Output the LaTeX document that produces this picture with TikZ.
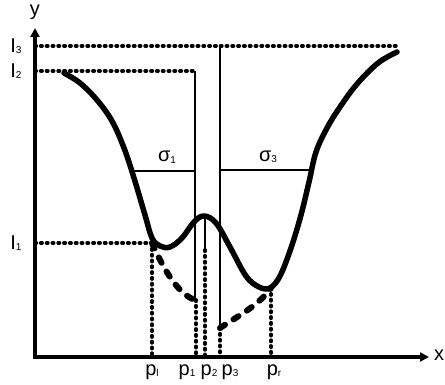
\documentclass[tikz,border=0pt]{standalone}
\usepackage{fontspec}
\setmainfont{Liberation Sans}
\usetikzlibrary{arrows.meta}
\newcommand{\lbsub}[1]{\raisebox{-1.5pt}{\fontsize{10}{10}\selectfont #1}}
\tikzset{
  axisline/.style={line width=3.2pt, -{Triangle[length=9pt,width=9pt]}},
  curveline/.style={line width=5.5pt, line cap=round, line join=round},
  dotline/.style={line width=3.8pt, dash pattern=on 1.2pt off 4.6pt, line cap=round},
  thickdash/.style={line width=6pt, dash pattern=on 6pt off 10pt, line cap=round},
  thinline/.style={line width=2pt},
  lbl/.style={font=\fontsize{20}{23}\selectfont, inner sep=0pt}
}
\begin{document}
\begin{tikzpicture}[x=1pt,y=-1pt]
\useasboundingbox (0,0) rectangle (445,385);
% axes
\coordinate (O) at (35,357);
\coordinate (ytip) at (35,28);
\coordinate (xtip) at (429,357);
\draw[axisline] (35,359) -- (ytip);
\draw[axisline] (33,357) -- (xtip);
\node[lbl] (ylab) at (35,12) {y};
\node[lbl] (xlab) at (439,355) {x};
% level coordinates
\coordinate (I3a) at (35,46);  \coordinate (I3b) at (397,46);
\coordinate (I2a) at (35,71);  \coordinate (I2b) at (195,71);
\coordinate (I1a) at (35,243); \coordinate (I1b) at (152,243);
\draw[dotline] (I3a) -- (I3b);
\draw[dotline] (I2a) -- (I2b);
\draw[dotline] (I1a) -- (I1b);
% main curve
\draw[curveline] plot[smooth, tension=0.6] coordinates {
 (64,73) (80,83) (97,100) (112,121) (124,148) (134,178) (145,215) (152,238) (160,246) (170,247) (182,238) (194,222) (204,216) (216,223) (230,247) (246,276) (259,287) (270,288) (280,276) (291,248) (301,215) (309,182) (316,152) (327,128) (340,107) (357,84) (378,63) (397,52)};
% vertical thin lines
\coordinate (v1t) at (195,71);  \coordinate (v1b) at (195,300);
\coordinate (v3t) at (220,46);  \coordinate (v3b) at (220,328);
\coordinate (v2t) at (205,217); \coordinate (v2b) at (205,250);
\draw[thinline] (v1t) -- (v1b);
\draw[thinline] (v3t) -- (v3b);
\draw[thinline] (v2t) -- (v2b);
% sigma lines
\coordinate (s1a) at (131,171); \coordinate (s1b) at (195,171);
\coordinate (s3a) at (220,170); \coordinate (s3b) at (313,170);
\draw[thinline] (s1a) -- (s1b);
\draw[thinline] (s3a) -- (s3b);
\node[lbl] (sig1) at (167,157) {σ\lbsub{1}};
\node[lbl] (sig3) at (268,157) {σ\lbsub{3}};
% dashed curves
\coordinate (pr) at (271,288);
\draw[thickdash] (I1b) .. controls (164,270) and (178,294) .. (v1b);
\draw[thickdash] (v3b) .. controls (238,316) and (258,306) .. (pr);
% dotted verticals
\coordinate (pla) at (152,357);
\coordinate (p1a) at (196,357);
\coordinate (p2a) at (205,357);
\coordinate (p3a) at (220,357);
\coordinate (pra) at (271,357);
\draw[dotline] (I1b) -- (pla);
\draw[dotline] (196,300) -- (p1a);
\draw[dotline] (v2b) -- (p2a);
\draw[dotline] (v3b) -- (p3a);
\draw[dotline] (pr) -- (pra);
% axis labels
\node[lbl] (lpl) at (152,372) {p\lbsub{l}};
\node[lbl] (lp1) at (187,372) {p\lbsub{1}};
\node[lbl] (lp2) at (209,372) {p\lbsub{2}};
\node[lbl] (lp3) at (230,372) {p\lbsub{3}};
\node[lbl] (lpr) at (274,372) {p\lbsub{r}};
\node[lbl] (l3) at (16,46) {I\lbsub{3}};
\node[lbl] (l2) at (16,71) {I\lbsub{2}};
\node[lbl] (l1) at (16,243) {I\lbsub{1}};
\end{tikzpicture}
\end{document}
